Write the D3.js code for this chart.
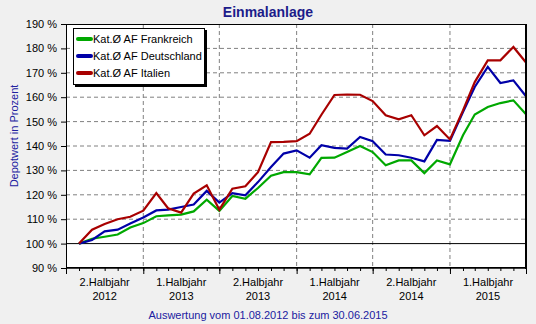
<!DOCTYPE html>
<html><head><meta charset="utf-8">
<script src="https://cdn.jsdelivr.net/npm/d3@7"></script>
<style>
html,body{margin:0;padding:0;background:#f0f0f0;}
svg{display:block;font-family:"Liberation Sans",Arial,sans-serif;}
</style></head>
<body>
<svg id="c" width="536" height="324"></svg>
<script>
// ---- data ----
const months = d3.range(36).map(i => new Date(2012, 7 + i, 1)); // Aug 2012 .. Jul 2015
const seriesNames = ["Kat.Ø AF Frankreich", "Kat.Ø AF Deutschland", "Kat.Ø AF Italien"];
const frankreich = [100,102,102.8,103.7,106.6,108.4,111.2,111.6,111.9,113.2,118,113.4,119.5,118.4,122.8,127.8,129.3,129.3,128.4,135.1,135.2,137.5,140,137.5,132.1,134.1,134.1,128.9,134.1,132.5,144.4,152.9,156,157.6,158.7,153];
const deutschland = [100,101.5,105,105.7,108.2,110.7,113.6,113.9,115,116,121.6,116.8,120.7,119.8,125.2,131.4,136.9,138.2,135.2,140.3,139.2,138.9,143.7,142,136.5,136.2,135.2,133.7,142.5,142.1,153.9,164.2,172.4,165.8,166.9,160.4];
const italien = [100,105.7,108,110,111,113.5,120.7,114.5,112.7,120.5,123.9,113.9,122.5,123.5,129.3,141.6,141.7,142,145,152.8,160.9,161.1,161,158.4,152.6,150.9,152.6,144.4,148.2,142.7,154.6,166.2,175.1,175.1,180.6,174.2];
const yTicks = [90,100,110,120,130,140,150,160,170,180,190];
const halfYearLabels = [["2.Halbjahr","2012"],["1.Halbjahr","2013"],["2.Halbjahr","2013"],["1.Halbjahr","2014"],["2.Halbjahr","2014"],["1.Halbjahr","2015"]];
const colors = ["#00a800","#0000a8","#a80000"];

// ---- layout ----
const svg = d3.select("#c");
const L = 66, R = 526, T = 24, B = 268;
const x = d3.scaleTime().domain([new Date(2012,6,1), new Date(2015,6,1)]).range([L, R]);
const y = d3.scaleLinear().domain([90,190]).range([B, T]);

svg.append("rect").attr("x",L).attr("y",T).attr("width",R-L).attr("height",B-T).attr("fill","#fff");

// grid
const halfYears = d3.timeMonth.every(6).range(new Date(2012,6,1), new Date(2015,6,2));
svg.append("g").selectAll("line").data(halfYears.slice(1,-1)).join("line")
  .attr("x1",d=>x(d)).attr("x2",d=>x(d)).attr("y1",T).attr("y2",B)
  .attr("stroke","#808080").attr("stroke-dasharray","4,3");
svg.append("g").selectAll("line").data(yTicks.filter(v=>v>90&&v<190&&v!==100)).join("line")
  .attr("x1",L).attr("x2",R).attr("y1",d=>y(d)).attr("y2",d=>y(d))
  .attr("stroke","#808080").attr("stroke-dasharray","4,3");
svg.append("line").attr("x1",L).attr("x2",R).attr("y1",y(100)).attr("y2",y(100)).attr("stroke","#000");

// lines
const line = d3.line().x((d,i)=>x(months[i])).y(d=>y(d));
[frankreich, deutschland, italien].forEach((s,k)=>{
  svg.append("path").datum(s).attr("d",line).attr("fill","none")
    .attr("stroke",colors[k]).attr("stroke-width",2.2);
});

// border
svg.append("rect").attr("x",L+0.5).attr("y",T+0.5).attr("width",R-L-1).attr("height",B-T-1)
  .attr("fill","none").attr("stroke","#000");
svg.append("line").attr("x1",R).attr("x2",R).attr("y1",T).attr("y2",B+1).attr("stroke","#000").attr("stroke-width",2);
svg.append("line").attr("x1",L).attr("x2",R+1).attr("y1",B).attr("y2",B).attr("stroke","#000").attr("stroke-width",1.5);

// y axis
const yAxis = d3.axisLeft(y).tickValues(yTicks).tickSize(5).tickFormat(d=>d+" %");
const ya = svg.append("g").attr("transform",`translate(${L},0)`).call(yAxis);
ya.select(".domain").remove();
ya.selectAll("text").attr("font-size","11px").attr("fill","#000").attr("font-family","Liberation Sans, Arial").attr("dx","-1");
ya.selectAll("line").attr("stroke","#000");

// x axis ticks
const xMinor = d3.axisBottom(x).ticks(d3.timeMonth.every(1)).tickSize(3).tickFormat("");
const xm = svg.append("g").attr("transform",`translate(0,${B})`).call(xMinor);
xm.select(".domain").remove();
xm.selectAll("line").attr("stroke","#000");
const xMajor = d3.axisBottom(x).tickValues(halfYears).tickSize(6).tickFormat("");
const xM = svg.append("g").attr("transform",`translate(0,${B})`).call(xMajor);
xM.select(".domain").remove();
xM.selectAll("line").attr("stroke","#000");

// x labels
const mids = halfYears.slice(0,-1).map((d,i)=> (x(d)+x(halfYears[i+1]))/2);
const lab = svg.append("g").selectAll("text").data(halfYearLabels).join("text")
  .attr("x",(d,i)=>mids[i]).attr("text-anchor","middle").attr("font-size","11px").attr("fill","#000");
lab.append("tspan").attr("x",(d,i)=>mids[i]).attr("y",286).text(d=>d[0]);
lab.append("tspan").attr("x",(d,i)=>mids[i]).attr("y",300).text(d=>d[1]);

// title
svg.append("text").attr("x",268).attr("y",17).attr("text-anchor","middle")
  .attr("font-size","14px").attr("font-weight","bold").attr("fill","#1c1c8a").text("Einmalanlage");
svg.append("text").attr("x",268).attr("y",319).attr("text-anchor","middle")
  .attr("font-size","11px").attr("fill","#2020a0").text("Auswertung vom 01.08.2012 bis zum 30.06.2015");
svg.append("text").attr("transform","translate(18,136) rotate(-90)").attr("text-anchor","middle")
  .attr("font-size","11px").attr("fill","#2020a0").text("Depotwert in Prozent");

// legend
const lg = svg.append("g");
lg.append("rect").attr("x",75).attr("y",30).attr("width",132).attr("height",57).attr("fill","#000");
lg.append("rect").attr("x",73.5).attr("y",28.5).attr("width",131).attr("height",56).attr("fill","#fff").attr("stroke","#000");
seriesNames.forEach((n,k)=>{
  const yy = 39 + k*17;
  lg.append("line").attr("x1",78).attr("x2",91).attr("y1",yy).attr("y2",yy)
    .attr("stroke",colors[k]).attr("stroke-width",4).attr("stroke-linecap","round");
  lg.append("text").attr("x",93).attr("y",yy+4).attr("font-size","11px").attr("fill","#000").text(n);
});
</script>
</body></html>
